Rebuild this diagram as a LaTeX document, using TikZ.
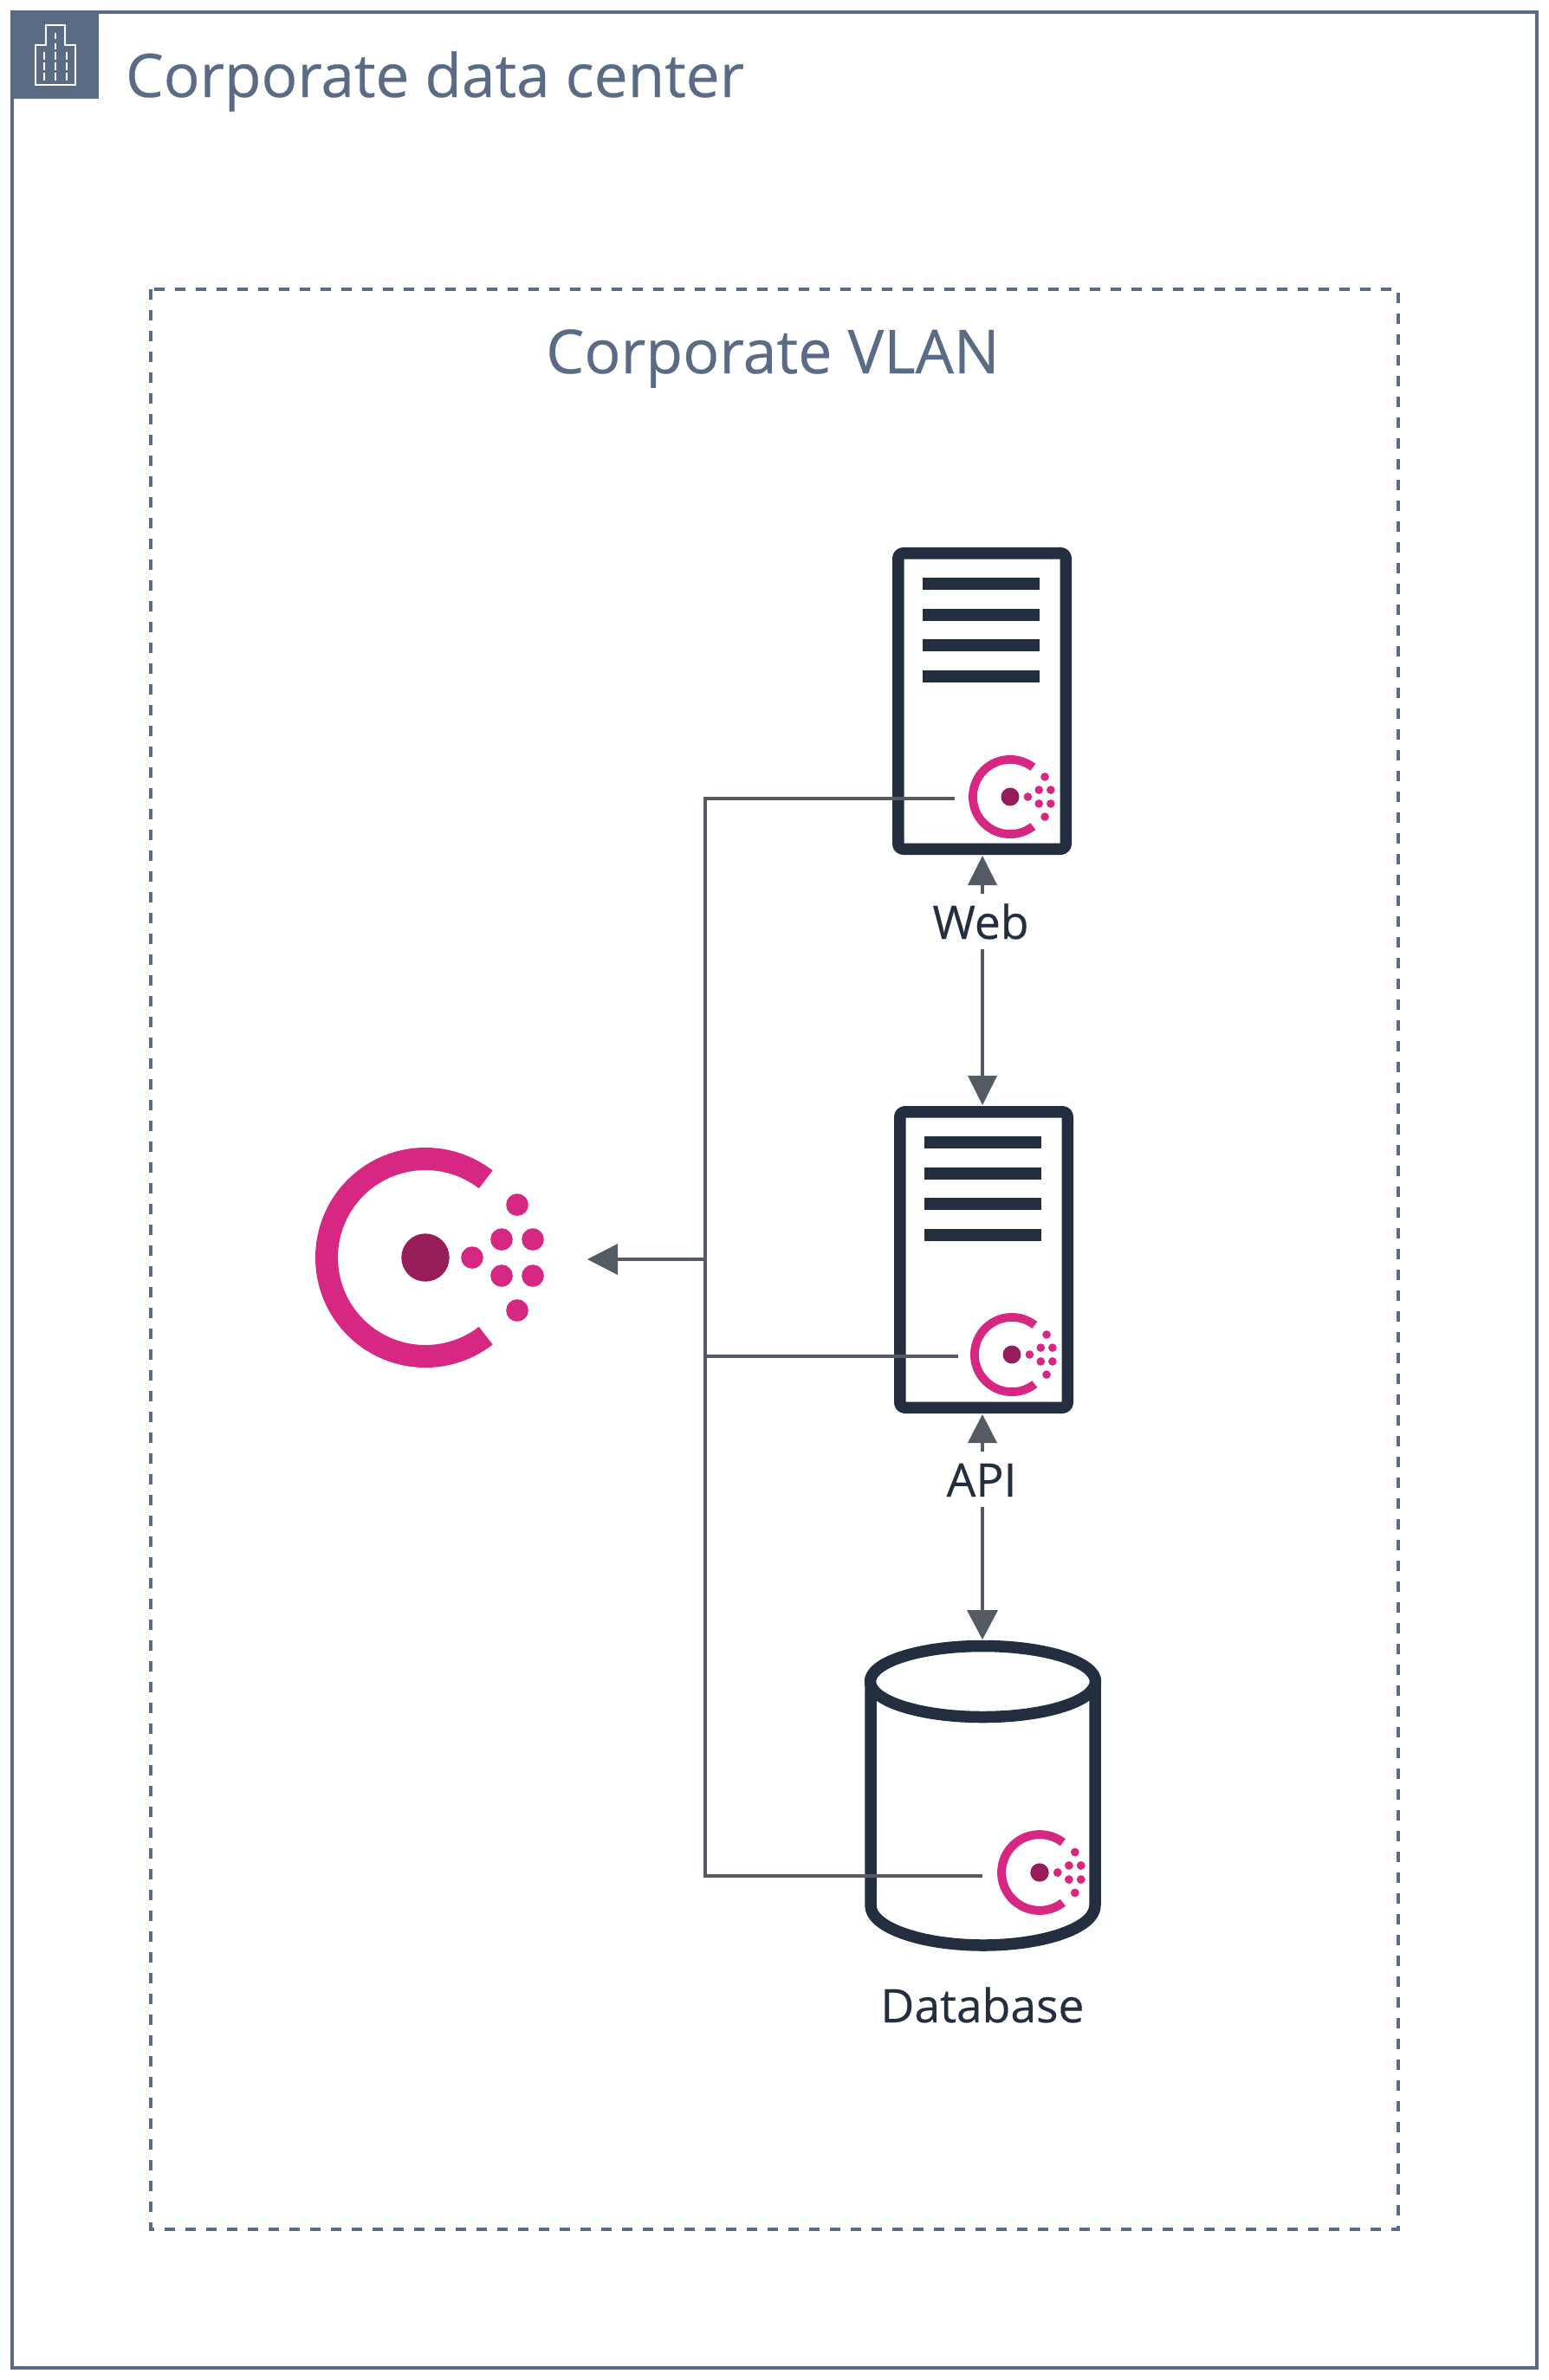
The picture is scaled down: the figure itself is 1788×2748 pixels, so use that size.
\documentclass[tikz,border=0pt]{standalone}
\usepackage{fontspec}
\setmainfont{Open Sans}
\newfontfamily\heavyfont{Open Sans}[FakeBold=0.3]
\definecolor{grp}{HTML}{5A6B86}
\definecolor{ink}{HTML}{232F3E}
\definecolor{lnk}{HTML}{545B64}
\definecolor{cpink}{HTML}{D62783}
\definecolor{cdark}{HTML}{961D59}
\tikzset{
  every node/.style={inner sep=0pt,outer sep=0pt},
  pxl/.style={x=0.5pt,y=-0.5pt},
  link/.style={draw=lnk,line width=2pt},
  tip/.style={fill=lnk,draw=none},
  thick ink/.style={draw=ink,line width=6.75pt,line join=round},
  grouptxt/.style={text=grp,font=\heavyfont\fontsize{35}{35}\selectfont,anchor=base},
  titletxt/.style={text=grp,font=\heavyfont\fontsize{34.7}{35}\selectfont,anchor=base west},
  labeltxt/.style={text=ink,font=\heavyfont\fontsize{26.7}{27}\selectfont,anchor=base},
}
\newcommand{\consul}[3]{% x y scale
  \begin{scope}[shift={(#1,#2)},x=#3*0.5pt,y=-#3*0.5pt]
    \fill[cpink] (52.3:127) arc[start angle=52.3,end angle=307.7,radius=127]
      -- (307.7:101) arc[start angle=307.7,end angle=52.3,radius=101] -- cycle;
    \fill[cdark] (0,0) circle[radius=27.7];
    \foreach \a/\b in {54/0,88/-21,124/-21,88/21,124/21,106/-61,106/61}
      \fill[cpink] (\a,\b) circle[radius=12.8];
  \end{scope}}
\newcommand{\serverbox}[2]{% left top
  \begin{scope}[shift={(#1,#2)}]
    \draw[thick ink,rounded corners=3pt,fill=white] (6.75,6.75) rectangle (200.25,348.25);
    \foreach \y in {35,71,106,142}
      \fill[ink] (35,\y) rectangle (170,\y+14);
  \end{scope}}
\begin{document}
\begin{tikzpicture}[pxl]
\useasboundingbox (0,0) rectangle (1788,2748);
\fill[white] (0,0) rectangle (1788,2748);
% outer group
\draw[draw=grp,line width=2pt] (14,14) rectangle (1774,2734);
\fill[grp] (12,12) rectangle (114,114);
\draw[white,line width=1pt] (53,52) -- (53,29) -- (75,29) -- (75,52) -- (87,52) -- (87,98) -- (41,98) -- (41,52) -- cycle;
\foreach \x in {50.5,64,77} \foreach \y in {64.5,76.5,88.5} \draw[white,line width=1pt] (\x,\y-4.5) -- (\x,\y+4.5);
\foreach \y in {41,53.5} \draw[white,line width=1pt] (64,\y-3.5) -- (64,\y+3.5);
\node[titletxt] (t1) at (145,112) {Corporate data center};
% VLAN
\draw[draw=grp,line width=2pt,dash pattern=on 6pt off 6pt] (174,334) rectangle (1614,2574);
\node[grouptxt] (t2) at (892,431) {Corporate VLAN};
% big consul
\consul{491}{1452}{1}
% servers
\serverbox{1030}{632}
\serverbox{1032}{1277}
% database
\draw[thick ink,fill=white] (1005,1941) -- (1005,2200) .. controls (1005,2226) and (1065,2246) .. (1135,2246) .. controls (1205,2246) and (1264,2226) .. (1264,2200) -- (1264,1941);
\draw[thick ink,fill=white] (1134.5,1941.5) ellipse[x radius=130,y radius=41];
\consul{1166}{920}{0.378}
\consul{1168}{1564}{0.378}
\consul{1200}{2162}{0.385}
% connectors
\coordinate (j1) at (814,922);
\coordinate (j2) at (814,1566);
\coordinate (j3) at (814,2166);
\coordinate (jm) at (814,1454);
\coordinate (e1) at (1102,922);
\coordinate (e2) at (1106,1566);
\coordinate (e3) at (1134,2166);
\draw[link] (e1) -- (j1) -- (j3) -- (e3);
\draw[link] (j2) -- (e2);
\draw[link] (jm) -- (713,1454);
\fill[tip] (678,1454) -- (713,1436) -- (713,1472) -- cycle;
% labels
\node[labeltxt] (web) at (1132,1084) {Web};
\node[labeltxt] (api) at (1133,1728) {API};
\node[labeltxt] (dbl) at (1134,2335) {Database};
% web link
\draw[link] (1134,1000) -- (1134,1032);
\fill[tip] (1134,988) -- (1151,1022) -- (1117,1022) -- cycle;
\draw[link] (1134,1096) -- (1134,1250);
\fill[tip] (1134,1276) -- (1151,1242) -- (1117,1242) -- cycle;
% api link
\draw[link] (1134,1650) -- (1134,1676);
\fill[tip] (1134,1633) -- (1151,1666) -- (1117,1666) -- cycle;
\draw[link] (1134,1740) -- (1134,1870);
\fill[tip] (1134,1893) -- (1152,1859) -- (1116,1859) -- cycle;
\end{tikzpicture}
\end{document}
